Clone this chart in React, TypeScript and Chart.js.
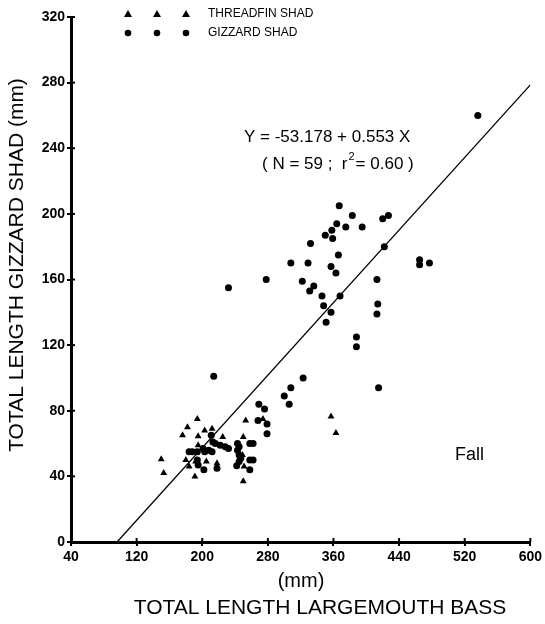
import React, { useEffect, useRef } from "react";
import { Chart, registerables } from "chart.js";

Chart.register(...registerables);

// ---- data ----
const xTickValues = [40, 120, 200, 280, 360, 440, 520, 600];
const yTickValues = [0, 40, 80, 120, 160, 200, 240, 280, 320];

const threadfinX = [194, 182, 203, 212, 176, 195, 225, 253, 274, 250, 195, 249, 180, 192, 205, 218, 150, 153, 184, 191, 251, 250, 357, 363];
const threadfinY = [75, 70, 68, 69, 65, 64.5, 64, 74, 75, 64, 59, 53, 50, 49, 49, 48, 50.5, 42, 46, 40, 46, 37, 76.5, 66.5];

const gizzardX = [211, 213, 216, 222, 228, 232, 243, 245, 258, 262, 184, 188, 194, 201, 203, 208, 212, 243, 245, 245, 247, 258, 262, 194, 202, 218, 242, 258, 268, 279, 279, 195, 269, 276, 300, 306, 308, 323, 214, 415, 232, 278, 322, 336, 331, 346, 368, 348, 357, 351, 388, 388, 414, 413, 413, 308, 329, 357, 363, 366, 332, 350, 359, 358, 364, 375, 395, 367, 383, 420, 427, 422, 465, 465, 477, 536];
const gizzardY = [65, 61, 60, 59, 58, 57, 60, 58, 60, 60, 55, 55, 55, 57, 55, 56, 55, 56, 53, 49, 51, 50, 50, 50, 44, 45, 46.5, 44, 74, 72, 66, 47, 84, 81, 89, 84, 94, 100, 101, 94, 155, 160, 159, 156, 153, 150, 150, 144, 140, 134, 125, 119, 145, 139, 160, 170, 170, 168, 164, 175, 182, 187, 185, 190, 194, 192, 192, 205, 199, 197, 199, 180, 172, 169, 170, 260];

const regIntercept = -53.178;
const regSlope = 0.553;
const regXEnd = 600;

const legendLabels = ["THREADFIN SHAD", "GIZZARD SHAD"];
const equationText = "Y = -53.178 + 0.553 X";
const seasonLabel = "Fall";
const xTitle = "TOTAL LENGTH LARGEMOUTH BASS";
const xUnit = "(mm)";
const yTitle = "TOTAL LENGTH GIZZARD SHAD (mm)";

const FONT = "'Liberation Sans', Arial, Helvetica, sans-serif";

const textPlugin = {
  id: "textPlugin",
  afterDraw(chart: any) {
    const ctx = chart.ctx as CanvasRenderingContext2D;
    ctx.save();
    ctx.fillStyle = "#000";
    ctx.strokeStyle = "#000";

    // legend
    const symX = [128, 157, 186];
    const rowY = [14, 33];
    symX.forEach((sx) => {
      ctx.beginPath();
      ctx.moveTo(sx, rowY[0] - 4);
      ctx.lineTo(sx + 4, rowY[0] + 3);
      ctx.lineTo(sx - 4, rowY[0] + 3);
      ctx.closePath();
      ctx.fill();
      ctx.beginPath();
      ctx.arc(sx, rowY[1], 3.3, 0, Math.PI * 2);
      ctx.fill();
    });
    ctx.font = `12px ${FONT}`;
    ctx.textAlign = "left";
    ctx.textBaseline = "middle";
    ctx.fillText(legendLabels[0], 208, rowY[0]);
    ctx.fillText(legendLabels[1], 208, rowY[1]);

    // equation
    ctx.font = `17px ${FONT}`;
    ctx.fillText(equationText, 244, 137);
    let x = 262;
    const y2 = 164;
    const parts1 = "( N = 59 ;  r";
    ctx.fillText(parts1, x, y2);
    x += ctx.measureText(parts1).width;
    ctx.font = `11px ${FONT}`;
    ctx.fillText("2", x + 1, y2 - 7);
    x += ctx.measureText("2").width + 2;
    ctx.font = `17px ${FONT}`;
    ctx.fillText("= 0.60 )", x, y2);

    // season
    ctx.font = `18px ${FONT}`;
    ctx.fillText(seasonLabel, 455, 455);

    // x titles
    ctx.textAlign = "center";
    ctx.font = `20px ${FONT}`;
    ctx.fillText(xUnit, 301, 581);
    ctx.font = `21px ${FONT}`;
    ctx.fillText(xTitle, 320, 608);

    // y title
    ctx.save();
    ctx.translate(17, 265);
    ctx.rotate(-Math.PI / 2);
    ctx.fillText(yTitle, 0, 0);
    ctx.restore();

    // inward tick stubs
    const xs = chart.scales.x;
    const ys = chart.scales.y;
    ctx.lineWidth = 2;
    xTickValues.forEach((v) => {
      const px = xs.getPixelForValue(v);
      ctx.beginPath();
      ctx.moveTo(px, ys.bottom);
      ctx.lineTo(px, ys.bottom - 4);
      ctx.stroke();
    });
    yTickValues.forEach((v) => {
      const py = ys.getPixelForValue(v);
      ctx.beginPath();
      ctx.moveTo(xs.left, py);
      ctx.lineTo(xs.left + 4, py);
      ctx.stroke();
    });
    ctx.restore();
  },
};

export default function App() {
  const canvasRef = useRef<HTMLCanvasElement | null>(null);

  useEffect(() => {
    if (!canvasRef.current) return;
    const threadfin = threadfinX.map((v, i) => ({ x: v, y: threadfinY[i] }));
    const gizzard = gizzardX.map((v, i) => ({ x: v, y: gizzardY[i] }));
    const regXStart = -regIntercept / regSlope;
    const regLine = [
      { x: regXStart, y: 0 },
      { x: regXEnd, y: regIntercept + regSlope * regXEnd },
    ];

    const tickFont = { family: FONT, size: 14, weight: "bold" as const };

    const chart = new Chart(canvasRef.current, {
      type: "scatter",
      data: {
        datasets: [
          {
            label: "Regression",
            data: regLine,
            showLine: true,
            borderColor: "#000",
            borderWidth: 1.3,
            pointRadius: 0,
            fill: false,
          },
          {
            label: legendLabels[0],
            data: threadfin,
            pointStyle: "triangle",
            pointRadius: 4,
            backgroundColor: "#000",
            borderColor: "#000",
            borderWidth: 0,
          },
          {
            label: legendLabels[1],
            data: gizzard,
            pointStyle: "circle",
            pointRadius: 3.5,
            backgroundColor: "#000",
            borderColor: "#000",
            borderWidth: 0,
          },
        ],
      },
      options: {
        animation: false,
        responsive: true,
        maintainAspectRatio: false,
        layout: { padding: { top: 17, right: 14, left: 0, bottom: 0 } },
        plugins: {
          legend: { display: false },
          tooltip: { enabled: false },
          title: { display: false },
        },
        scales: {
          x: {
            type: "linear",
            min: 40,
            max: 600,
            afterBuildTicks: (s: any) => {
              s.ticks = xTickValues.map((v) => ({ value: v }));
            },
            afterFit: (s: any) => {
              s.height = 82;
            },
            ticks: { color: "#000", font: tickFont, padding: 3, maxRotation: 0, autoSkip: false },
            grid: { display: true, drawOnChartArea: false, drawTicks: true, tickLength: 4, color: "#000", lineWidth: 2 },
            border: { display: true, color: "#000", width: 3 },
          },
          y: {
            type: "linear",
            min: 0,
            max: 320,
            afterBuildTicks: (s: any) => {
              s.ticks = yTickValues.map((v) => ({ value: v }));
            },
            afterFit: (s: any) => {
              s.width = 71;
            },
            ticks: { color: "#000", font: tickFont, padding: 2, autoSkip: false },
            grid: { display: true, drawOnChartArea: false, drawTicks: true, tickLength: 4, color: "#000", lineWidth: 2 },
            border: { display: true, color: "#000", width: 3 },
          },
        },
      },
      plugins: [textPlugin],
    });
    return () => chart.destroy();
  }, []);

  return (
    <div style={{ position: "absolute", left: 0, top: 0, width: 545, height: 624, background: "#fff" }}>
      <canvas ref={canvasRef} />
    </div>
  );
}
